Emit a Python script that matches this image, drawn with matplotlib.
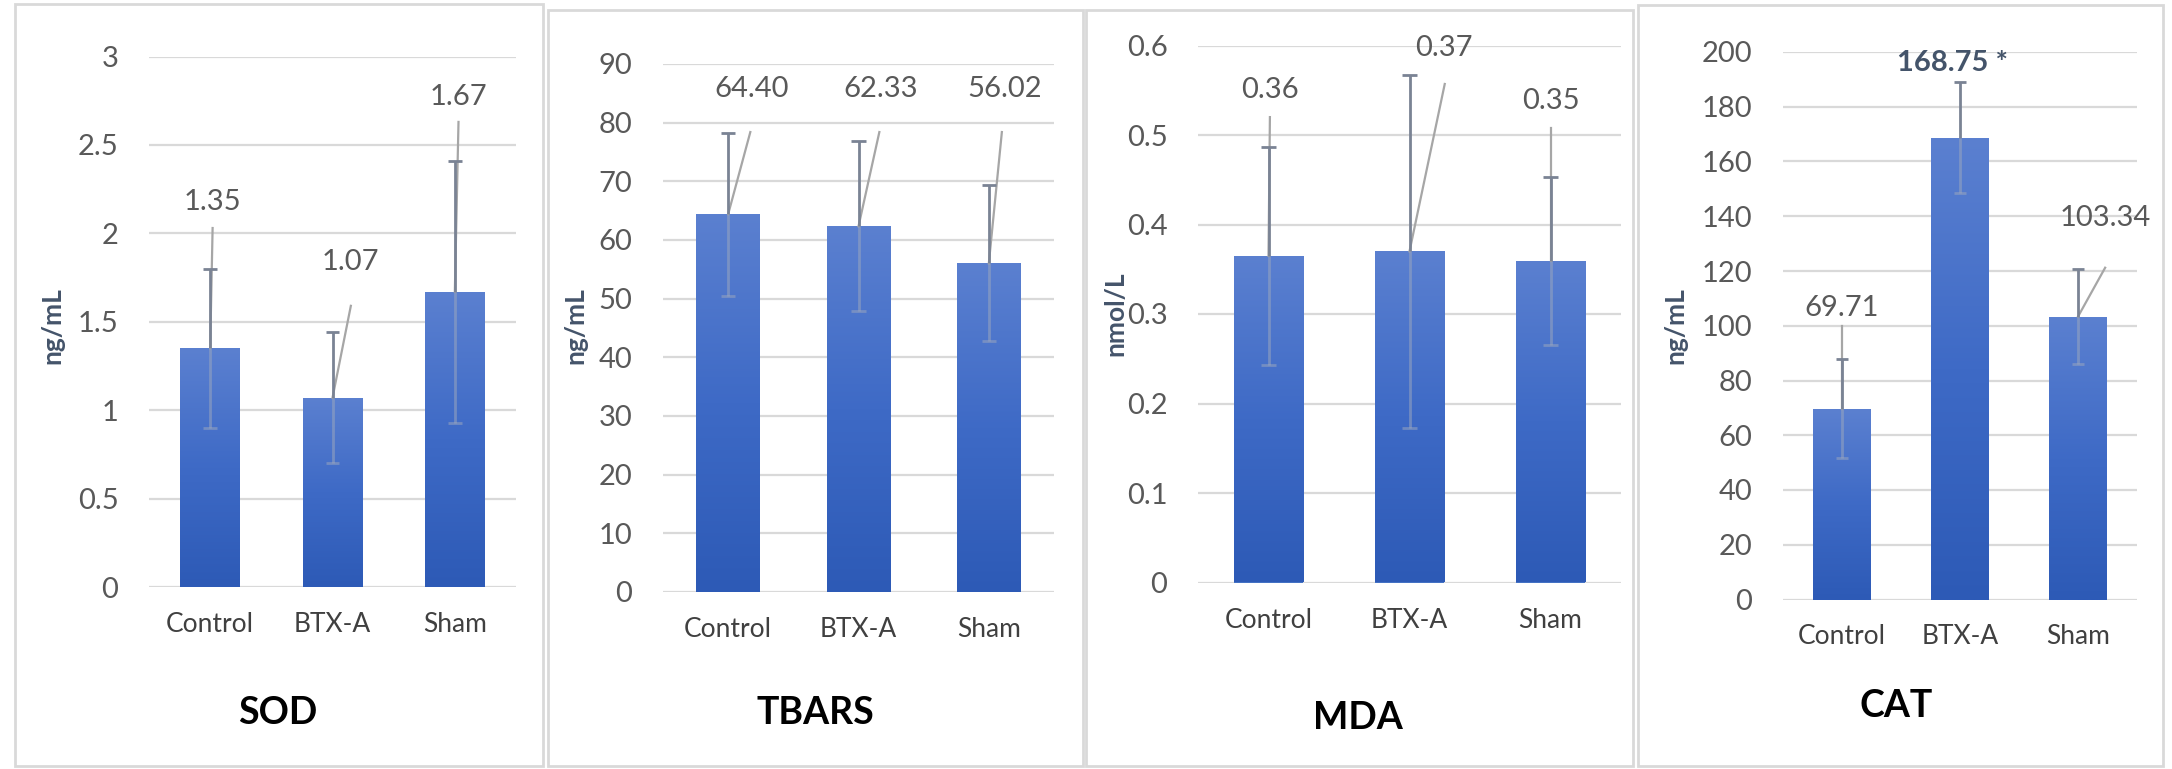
import matplotlib.pyplot as plt
from matplotlib.patches import Rectangle
from matplotlib.colors import LinearSegmentedColormap
import numpy as np

plt.rcParams['font.family'] = ['Lato', 'DejaVu Sans']

groups = ['Control', 'BTX-A', 'Sham']

sod_mean = [1.35, 1.07, 1.67]
sod_sd = [0.45, 0.37, 0.74]
tbars_mean = [64.40, 62.33, 56.02]
tbars_sd = [13.9, 14.5, 13.3]
mda_mean = [0.365, 0.37, 0.359]
mda_sd = [0.122, 0.197, 0.094]
cat_mean = [69.71, 168.75, 103.34]
cat_sd = [18.0, 20.2, 17.4]

sod_labels = ['1.35', '1.07', '1.67']
tbars_labels = ['64.40', '62.33', '56.02']
mda_labels = ['0.36', '0.37', '0.35']
cat_labels = ['69.71', '168.75 *', '103.34']

W, H = 2172, 769
fig = plt.figure(figsize=(W / 100, H / 100), dpi=100)

# one entry per panel: data + layout (pixel boxes, label/leader placement)
panels = [
  dict(mean=sod_mean, sd=sod_sd, labels=sod_labels, title='SOD', ylabel='ng/mL',
       ylim=3, step=0.5, ax=(149, 516, 56.5, 587), border=(15, 543, 4, 766),
       ylab_x=52, ylab_y=326, title_x=278, title_y=713,
       lab=[(0.02, 2.18), (0.15, 1.84), (0.03, 2.77)],
       lead=[(0.02, 2.03), (0.15, 1.59), (0.03, 2.63)]),
  dict(mean=tbars_mean, sd=tbars_sd, labels=tbars_labels, title='TBARS', ylabel='ng/mL',
       ylim=90, step=10, ax=(663, 1054, 64, 592), border=(548, 1083, 10, 766),
       ylab_x=575, ylab_y=326, title_x=815, title_y=713,
       lab=[(0.18, 85.8), (0.17, 85.8), (0.12, 85.8)],
       lead=[(0.17, 78.4), (0.16, 78.4), (0.10, 78.4)]),
  dict(mean=mda_mean, sd=mda_sd, labels=mda_labels, title='MDA', ylabel='nmol/L',
       ylim=0.6, step=0.1, ax=(1198, 1621, 45.5, 582.5), border=(1086, 1633, 10, 766),
       ylab_x=1115, ylab_y=314, title_x=1358, title_y=718,
       lab=[(0.01, 0.55), (0.245, 0.597), (0.0, 0.538)],
       lead=[(0.01, 0.52), (0.25, 0.557), (0.0, 0.508)]),
  dict(mean=cat_mean, sd=cat_sd, labels=cat_labels, title='CAT', ylabel='ng/mL',
       ylim=200, step=20, ax=(1783, 2137, 52, 599.5), border=(1638, 2163, 5, 766),
       ylab_x=1675, ylab_y=326, title_x=1896, title_y=706,
       lab=[(0.0, 106.4), (-0.06, 195.9), (0.23, 139.5)],
       lead=[(0.0, 99.8), None, (0.23, 121.2)]),
]

cmap = LinearSegmentedColormap.from_list('bar', ['#2D5AB6', '#3E6AC6', '#5B80D0'])
grad = np.linspace(0, 1, 256).reshape(-1, 1)
err_col = '#7A8394'

for p in panels:
  x0, x1, yt, yb = p['ax']
  ax = fig.add_axes([x0 / W, 1 - yb / H, (x1 - x0) / W, (yb - yt) / H])
  x = np.arange(len(groups))
  mean = np.array(p['mean'])
  sd = np.array(p['sd'])
  bars = ax.bar(x, mean, width=0.49, color='#4472C4', zorder=2)
  for rect in bars:
    bx, w, h = rect.get_x(), rect.get_width(), rect.get_height()
    im = ax.imshow(grad, extent=[bx, bx + w, 0, h], origin='lower', cmap=cmap,
                   aspect='auto', zorder=3)
    im.set_clip_path(rect)

  # error bars: upper half drawn solid, lower half faint (sits over the bar)
  ax.vlines(x, mean, mean + sd, color=err_col, lw=2, zorder=5)
  ax.hlines(mean + sd, x - 0.055, x + 0.055, color=err_col, lw=2, zorder=5)
  ax.vlines(x, mean - sd, mean, color='#9AA6BE', lw=2, alpha=0.55, zorder=5)
  ax.hlines(mean - sd, x - 0.055, x + 0.055, color='#9AA6BE', lw=2, alpha=0.55, zorder=5)

  for i in range(len(groups)):
    if p['lead'][i] is not None:
      dx, ly = p['lead'][i]
      ax.plot([x[i], x[i] + dx], [mean[i], ly], color='#A6A6A6', lw=1.6, zorder=4)
    tx, ty = p['lab'][i]
    bold = p['labels'][i].endswith('*')
    ax.text(x[i] + tx, ty, p['labels'][i], ha='center', va='center', fontsize=21,
            color='#44546A' if bold else '#595959', fontweight='bold' if bold else 'normal',
            zorder=6)
  ax.set_xlim(-0.5, 2.5)
  ax.set_ylim(0, p['ylim'])
  ax.set_yticks(np.arange(0, p['ylim'] + p['step'] / 2, p['step']))
  ax.yaxis.set_major_formatter(plt.FuncFormatter(lambda v, pos: '{:g}'.format(round(v, 2))))
  ax.set_xticks(x)
  ax.set_xticklabels(groups)
  ax.tick_params(axis='y', length=0, pad=22, labelsize=21, labelcolor='#595959')
  ax.tick_params(axis='x', length=0, pad=18, labelsize=19, labelcolor='#404040')
  ax.grid(axis='y', color='#D9D9D9', lw=1.6, zorder=0)
  ax.set_axisbelow(True)
  for s in ax.spines.values():
    s.set_visible(False)

  fig.text(p['ylab_x'] / W, 1 - p['ylab_y'] / H, p['ylabel'], rotation=90, ha='center',
           va='center', fontsize=19, fontweight='bold', color='#44546A')
  fig.text(p['title_x'] / W, 1 - p['title_y'] / H, p['title'], ha='center', va='center',
           fontsize=27, fontweight='bold', color='black')

  b0, b1, bt, bb = p['border']
  fig.patches.append(Rectangle((b0 / W, 1 - bb / H), (b1 - b0) / W, (bb - bt) / H,
                               transform=fig.transFigure, fill=False,
                               edgecolor='#D9D9D9', lw=2))

fig.savefig('out.png', dpi=100)
